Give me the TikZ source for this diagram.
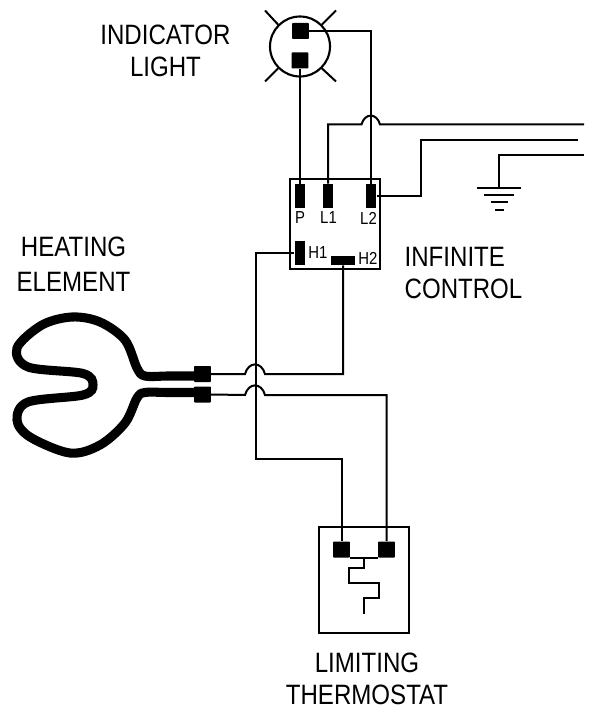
\documentclass[tikz,border=0pt]{standalone}
\usepackage{fontspec}
\newfontfamily\labelfont[FakeStretch=0.86]{Liberation Sans}
\usetikzlibrary{positioning}

\begin{document}
\begin{tikzpicture}[x=0.75pt,y=-0.75pt,
    wire/.style={line width=1.5pt},
    hop/.style={out=75,in=105,looseness=1.7},
    case/.style={draw,line width=1.6pt,inner sep=0pt},
    term/.style={rectangle,fill=black,inner sep=0pt},
    bigterm/.style={term,minimum width=12.4pt,minimum height=12pt,rounded corners=0.5pt},
    pinterm/.style={term,minimum width=8pt,minimum height=18pt},
    partlabel/.style={font=\labelfont\fontsize{21}{24}\selectfont,align=center,inner sep=0pt},
    pinlabel/.style={font=\labelfont\fontsize{13}{14}\selectfont,inner sep=0pt}]
\useasboundingbox (0,0) rectangle (589,709);

% lamp
\node (lamp) [circle,draw,line width=1.6pt,minimum size=45pt,inner sep=0pt] at (300,46.5) {};
\node (lampa) [bigterm] at (300.5,31) {};
\node (lampb) [bigterm] at (300,60.5) {};
\coordinate (ray1) at (265,10.5);
\coordinate (ray2) at (336,10.5);
\coordinate (ray3) at (265,81.5);
\coordinate (ray4) at (336,81.5);
\draw[wire] (lamp.north west) -- (ray1);
\draw[wire] (lamp.north east) -- (ray2);
\draw[wire] (lamp.south west) -- (ray3);
\draw[wire] (lamp.south east) -- (ray4);

% control box
\node (ctrl) [case,minimum size=67.5pt] at (335,224) {};
\node (P) [pinterm] at (300,196) {};
\node (L1) [pinterm] at (328,196) {};
\node (L2) [pinterm] at (371,196) {};
\node (H1) [pinterm] at (300,253) {};
\node (H2) [term,minimum width=18pt,minimum height=7pt] at (343,260.5) {};
\node (Pname) [pinlabel] at (300,218) {P};
\node (L1name) [pinlabel] at (328.5,218) {L1};
\node (L2name) [pinlabel] at (368.5,218) {L2};
\node (H1name) [pinlabel] at (318,253) {H1};
\node (H2name) [pinlabel] at (368,258.5) {H2};

% supply
\coordinate (line1) at (584,124.5);
\coordinate (line2) at (578,140.5);
\coordinate (line3) at (584,155.5);
\coordinate (hopa) at (361.5,124.5);
\coordinate (hopb) at (380,124.5);
\coordinate (gnd) at (498.5,188.5);
\coordinate (g1a) at (477,188.5);
\coordinate (g1b) at (520.5,188.5);
\coordinate (g2a) at (484,195.5);
\coordinate (g2b) at (513.5,195.5);
\coordinate (g3a) at (491,202.5);
\coordinate (g3b) at (507.5,202.5);
\coordinate (g4a) at (495,209.5);
\coordinate (g4b) at (503.5,209.5);
\draw[wire] (lampb.south) -- (P.north);
\draw[wire] (lampa.east) -| (L2.north);
\draw[wire] (L1.north) |- (hopa) to[hop] (hopb) -- (line1);
\draw[wire] (L2.east) -- (420.5,196) |- (line2);
\draw[wire] (line3) -| (gnd);
\draw[wire] (g1a) -- (g1b);
\draw[wire] (g2a) -- (g2b);
\draw[wire] (g3a) -- (g3b);
\draw[wire] (g4a) -- (g4b);

% heating element
\node (Ea) [bigterm] at (202.5,374) {};
\node (Eb) [bigterm] at (202.5,394.5) {};
\draw[line width=6.8pt] plot[smooth,tension=0.55] coordinates {
  (197,376) (168,376) (145,376) (137,368) (125,340) (100,322) (72,317) (42,325) (17,348)
  (28,367) (83,373.5) (93,385) (83,395) (28,402) (17,420) (30,437) (70,453)
  (100,445) (125,423) (137,398) (145,392.5) (168,392.5) (197,392.5)};

% limiting thermostat
\node (tstat) [case,minimum width=68pt,minimum height=80pt] at (364,580) {};
\node (Ta) [bigterm] at (341.5,549.5) {};
\node (Tb) [bigterm] at (386.5,549.5) {};
\coordinate (zig0) at (363.5,557);
\coordinate (zig1) at (348.5,567.5);
\coordinate (zig2) at (378.5,582.5);
\coordinate (zig3) at (363.5,597.5);
\coordinate (zig4) at (363.5,613.5);
\draw[wire] (Ta.south east) -- (Tb.south west);
\draw[wire] (zig0) |- (zig1) |- (zig2) |- (zig3) -- (zig4);

% element and control wiring
\coordinate (hop1a) at (245,374);
\coordinate (hop1b) at (265,374);
\coordinate (hop2a) at (245,395);
\coordinate (hop2b) at (265,395);
\coordinate (down) at (255.5,458.5);
\draw[wire] (Ea.east) -- (hop1a) to[hop] (hop1b) -| (H2.south);
\draw[wire] (Eb.east) -- (hop2a) to[hop] (hop2b) -| (Tb.north);
\draw[wire] (H1.west) -| (down) -| (Ta.north);

% labels
\node (lampname) [partlabel] at (165.5,51) {INDICATOR\\LIGHT};
\node (elemname) [partlabel,font=\labelfont\fontsize{21}{26}\selectfont] at (73.5,264.5) {HEATING\\ELEMENT};
\node (ctrlname) [partlabel,align=left] at (463.5,273) {INFINITE\\CONTROL};
\node (tstatname) [partlabel] at (367,679) {LIMITING\\THERMOSTAT};
\end{tikzpicture}
\end{document}
